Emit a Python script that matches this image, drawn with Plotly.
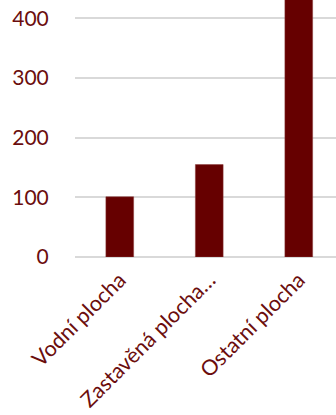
import plotly.graph_objects as go

categories = ["Vodní plocha", "Zastavěná plocha…", "Ostatní plocha"]
values = [101, 155, 480]
y_ticks = [0, 100, 200, 300, 400]

text_color = "#6b0d0d"
bar_color = "#660000"

fig = go.Figure(go.Bar(
    x=categories, y=values,
    marker=dict(color=bar_color, line=dict(color="#8a3a3a", width=0.5)),
    width=0.31,
))

fig.update_layout(
    width=336, height=415,
    margin=dict(l=75, r=0, t=0, b=158, autoexpand=False),
    paper_bgcolor="white", plot_bgcolor="white",
    showlegend=False,
    font=dict(family="Lato", color=text_color),
)
fig.update_xaxes(
    range=[-0.5, 2.416],
    tickangle=-45,
    tickfont=dict(size=21.5, color=text_color),
    showgrid=False, showline=False, zeroline=False,
    ticks="outside", ticklen=1, tickcolor="rgba(0,0,0,0)",
    ticklabeloverflow="allow",
)
fig.update_yaxes(
    range=[0, 431],
    tickvals=y_ticks,
    tickfont=dict(size=21, color=text_color),
    showgrid=True, gridcolor="#d9d9d9", gridwidth=1.5,
    zeroline=True, zerolinecolor="#d9d9d9", zerolinewidth=1.5,
    ticks="outside", ticklen=21, tickcolor="rgba(0,0,0,0)",
    showline=False,
    ticklabeloverflow="allow",
)

fig.write_html(
    "out.html",
    config={"displayModeBar": False},
    post_script="document.body.style.margin='0';document.body.style.overflow='hidden';",
)
